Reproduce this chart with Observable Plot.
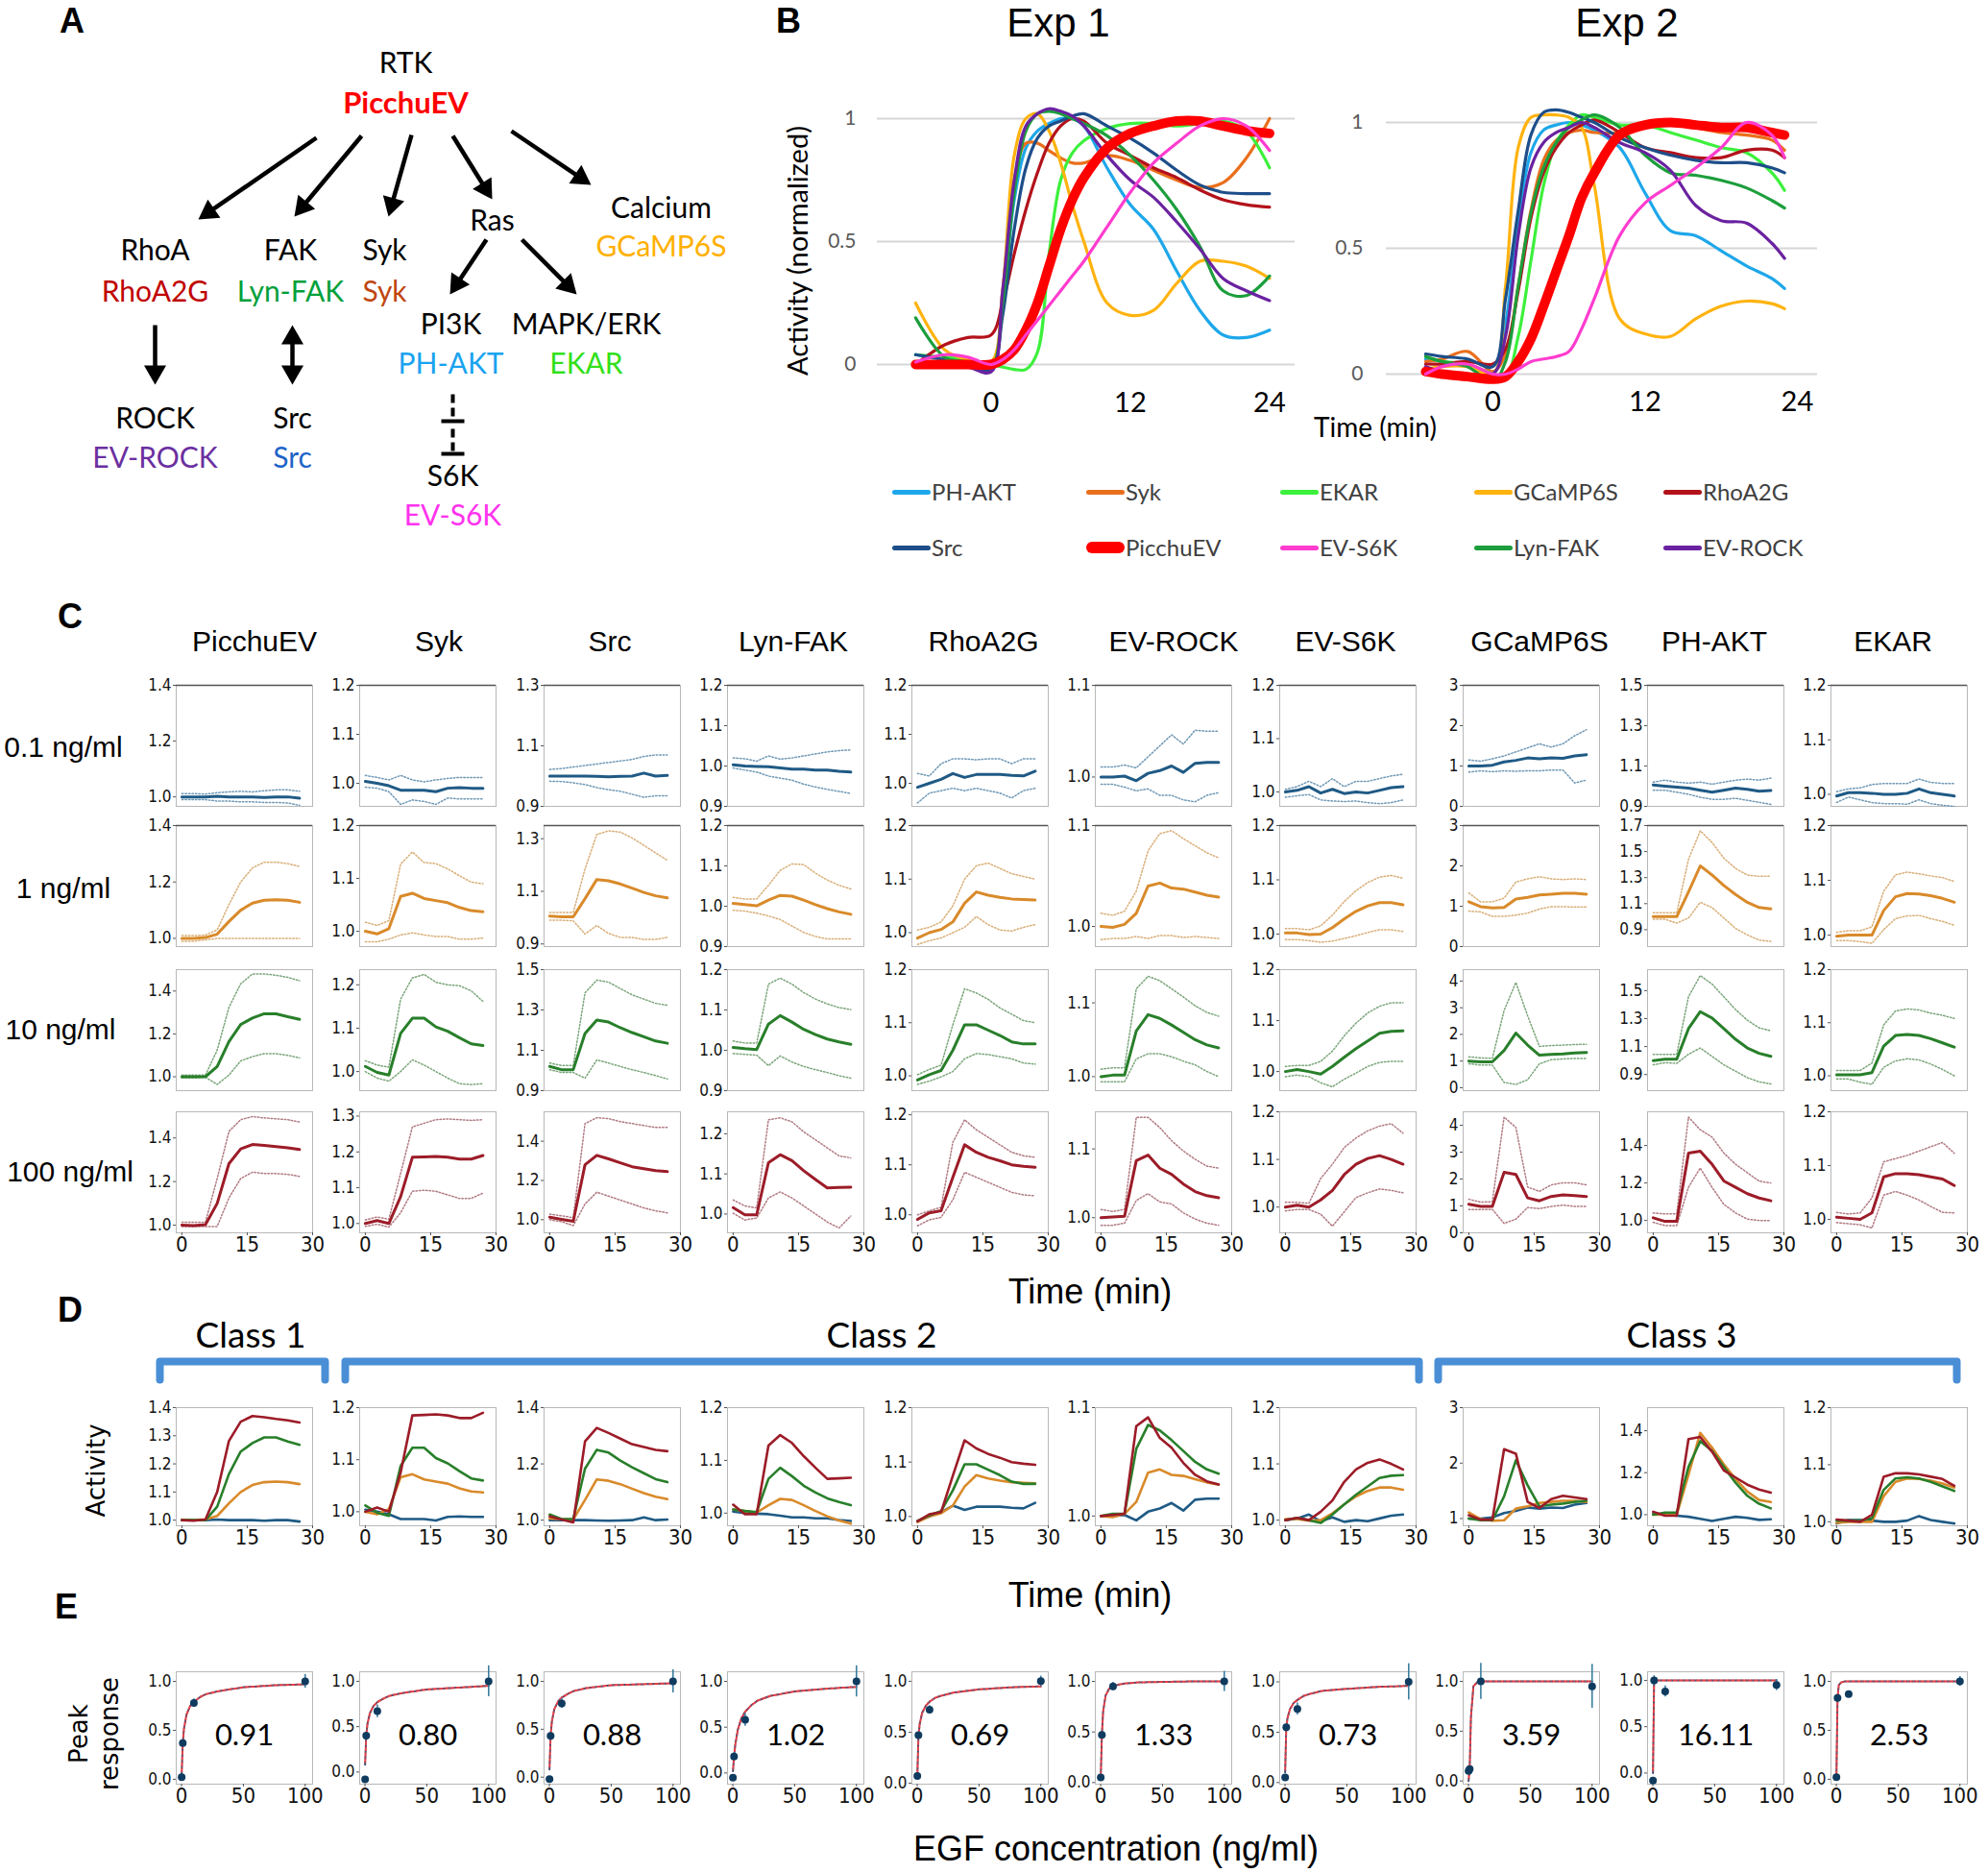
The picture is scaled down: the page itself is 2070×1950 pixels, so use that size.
<!DOCTYPE html>
<html><head><meta charset="utf-8">
<script src="https://cdn.jsdelivr.net/npm/d3@7"></script>
<script src="https://cdn.jsdelivr.net/npm/@observablehq/plot@0.6"></script>
<style>
body{margin:0;background:#fff;}
#root{position:relative;width:2070px;height:1950px;overflow:hidden;background:#fff;}
.t{position:absolute;white-space:nowrap;transform:translate(-50%,-50%);line-height:1;}
</style></head><body><div id="root"></div>
<script>
// ---------------- DATA ----------------
const sensors = ["PicchuEV","Syk","Src","Lyn-FAK","RhoA2G","EV-ROCK","EV-S6K","GCaMP6S","PH-AKT","EKAR"];
const concLabels = ["0.1 ng/ml","1 ng/ml","10 ng/ml","100 ng/ml"];
const timeC = [0,2.7,5.4,8.1,10.8,13.5,16.2,18.9,21.6,24.3,27];

const mean01 = [
 [1.0,1.0,1.0,1.002,1.0,1.0,1.0,0.998,1.0,1.0,0.995],
 [1.004,1.0,0.995,0.986,0.986,0.986,0.983,0.99,0.991,0.99,0.99],
 [1.0,1.0,1.0,1.0,0.999,0.998,0.999,1.0,1.01,1.0,1.002],
 [1.003,1.0,0.999,0.998,0.995,0.992,0.992,0.99,0.99,0.987,0.985],
 [0.992,1.0,1.008,1.02,1.012,1.018,1.018,1.018,1.016,1.015,1.025],
 [1.0,1.0,1.001,0.996,1.004,1.007,1.012,1.005,1.015,1.016,1.016],
 [1.0,1.003,1.01,0.998,1.005,0.997,1.0,0.998,1.003,1.008,1.01],
 [1.0,1.0,1.02,1.1,1.14,1.2,1.18,1.2,1.19,1.25,1.28],
 [1.006,1.0,0.995,0.99,0.98,0.97,0.98,0.99,0.985,0.975,0.978],
 [0.997,1.003,1.003,1.002,1.0,1.0,1.002,1.01,1.003,1.0,0.997]];
const upper01 = [
 [1.012,1.012,1.01,1.015,1.018,1.02,1.018,1.022,1.025,1.025,1.02],
 [1.016,1.012,1.007,1.016,1.007,1.003,1.007,1.01,1.012,1.012,1.012],
 [1.022,1.025,1.03,1.035,1.04,1.045,1.05,1.055,1.065,1.07,1.07],
 [1.02,1.018,1.012,1.025,1.017,1.02,1.025,1.03,1.035,1.038,1.04],
 [1.02,1.015,1.04,1.05,1.05,1.048,1.05,1.05,1.04,1.05,1.05],
 [1.011,1.011,1.013,1.01,1.022,1.034,1.046,1.036,1.051,1.05,1.05],
 [1.005,1.01,1.02,1.01,1.025,1.01,1.02,1.02,1.025,1.03,1.033],
 [1.15,1.12,1.18,1.25,1.35,1.45,1.55,1.47,1.55,1.75,1.9],
 [1.02,1.03,1.02,1.015,1.02,1.01,1.02,1.03,1.035,1.03,1.04],
 [1.005,1.01,1.012,1.018,1.02,1.02,1.02,1.028,1.022,1.02,1.02]];
const lower01 = [
 [0.99,0.99,0.99,0.985,0.985,0.982,0.982,0.98,0.98,0.978,0.97],
 [0.992,0.99,0.983,0.957,0.966,0.963,0.957,0.97,0.968,0.968,0.968],
 [0.983,0.982,0.978,0.972,0.962,0.955,0.95,0.94,0.93,0.935,0.935],
 [0.995,0.99,0.985,0.975,0.97,0.965,0.955,0.948,0.942,0.937,0.932],
 [0.96,0.98,0.985,0.99,0.985,0.99,0.985,0.98,0.97,0.985,0.99],
 [0.992,0.992,0.989,0.985,0.987,0.98,0.98,0.975,0.973,0.98,0.983],
 [0.99,0.993,0.995,0.985,0.983,0.982,0.983,0.98,0.978,0.98,0.985],
 [0.85,0.88,0.86,0.88,0.87,0.88,0.88,0.9,0.9,0.58,0.65],
 [0.98,0.98,0.97,0.96,0.945,0.935,0.935,0.94,0.93,0.92,0.91],
 [0.985,0.995,0.99,0.985,0.983,0.983,0.982,0.99,0.983,0.98,0.978]];

const mean1 = [
 [1.0,1.0,1.003,1.015,1.06,1.1,1.125,1.135,1.137,1.135,1.128],
 [1.0,0.995,1.005,1.066,1.072,1.062,1.058,1.054,1.045,1.039,1.037],
 [1.006,1.003,1.003,1.072,1.145,1.14,1.128,1.112,1.096,1.083,1.075],
 [1.007,1.004,1.001,1.015,1.027,1.025,1.015,1.004,0.994,0.986,0.98],
 [0.99,1.0,1.006,1.02,1.055,1.076,1.07,1.066,1.063,1.062,1.061],
 [1.0,0.999,1.002,1.013,1.04,1.043,1.038,1.037,1.034,1.031,1.029],
 [1.002,1.002,0.999,1.0,1.012,1.028,1.042,1.052,1.058,1.058,1.054],
 [1.11,0.99,0.96,0.97,1.18,1.22,1.28,1.3,1.32,1.32,1.3],
 [1.0,1.0,1.0,1.19,1.39,1.32,1.24,1.17,1.11,1.07,1.06],
 [0.998,1.0,1.0,1.0,1.045,1.07,1.076,1.075,1.072,1.067,1.06]];
const upper1 = [
 [1.01,1.01,1.012,1.03,1.12,1.2,1.25,1.27,1.27,1.265,1.255],
 [1.017,1.011,1.02,1.127,1.15,1.13,1.128,1.118,1.105,1.093,1.09],
 [1.02,1.02,1.02,1.185,1.316,1.33,1.325,1.303,1.275,1.246,1.218],
 [1.022,1.018,1.018,1.052,1.089,1.105,1.103,1.082,1.065,1.052,1.043],
 [1.005,1.01,1.02,1.05,1.1,1.125,1.13,1.12,1.11,1.105,1.1],
 [1.013,1.011,1.015,1.035,1.075,1.092,1.095,1.087,1.08,1.073,1.068],
 [1.01,1.01,1.008,1.015,1.035,1.06,1.08,1.095,1.105,1.108,1.103],
 [1.33,1.11,1.11,1.2,1.6,1.68,1.73,1.68,1.66,1.68,1.66],
 [1.03,1.03,1.03,1.44,1.66,1.57,1.45,1.37,1.32,1.31,1.31],
 [1.005,1.008,1.008,1.015,1.08,1.11,1.115,1.112,1.108,1.105,1.098]];
const lower1 = [
 [0.99,0.99,0.995,1.0,1.0,1.0,1.0,1.0,1.0,1.0,1.0],
 [0.98,0.98,0.985,0.993,0.997,0.993,0.99,0.99,0.985,0.985,0.987],
 [0.99,0.99,0.988,0.938,0.97,0.94,0.925,0.925,0.917,0.917,0.925],
 [0.99,0.988,0.983,0.976,0.967,0.951,0.935,0.925,0.919,0.919,0.919],
 [0.978,0.985,0.99,1.0,1.01,1.03,1.015,1.005,1.003,1.01,1.015],
 [0.987,0.988,0.988,0.99,0.988,0.991,0.991,0.989,0.99,0.989,0.988],
 [0.99,0.99,0.988,0.985,0.987,0.992,0.997,1.003,1.008,1.008,1.005],
 [0.88,0.86,0.75,0.75,0.78,0.83,0.93,0.99,0.99,0.98,0.98],
 [0.98,0.98,0.95,0.99,1.11,1.07,0.99,0.91,0.86,0.82,0.81],
 [0.99,0.99,0.988,0.985,1.01,1.03,1.035,1.036,1.03,1.025,1.018]];

const mean10 = [
 [1.0,1.0,1.0,1.048,1.164,1.244,1.274,1.294,1.294,1.28,1.268],
 [1.012,0.998,0.992,1.088,1.123,1.123,1.103,1.093,1.078,1.064,1.06],
 [1.02,1.004,1.004,1.183,1.25,1.24,1.212,1.188,1.167,1.146,1.135],
 [1.007,1.004,1.002,1.065,1.086,1.07,1.052,1.039,1.028,1.021,1.015],
 [0.992,1.002,1.01,1.048,1.096,1.096,1.086,1.076,1.064,1.06,1.06],
 [1.0,1.002,1.002,1.062,1.084,1.079,1.07,1.06,1.05,1.043,1.039],
 [1.0,1.004,1.0,0.995,1.01,1.028,1.045,1.06,1.075,1.079,1.08],
 [1.0,0.97,0.97,1.4,2.05,1.6,1.22,1.25,1.27,1.3,1.32],
 [1.0,1.01,1.01,1.228,1.35,1.304,1.228,1.152,1.09,1.052,1.03],
 [1.002,1.002,1.002,1.006,1.056,1.076,1.078,1.076,1.07,1.062,1.054]];
const upper10 = [
 [1.008,1.008,1.008,1.124,1.324,1.434,1.48,1.48,1.474,1.464,1.448],
 [1.025,1.015,1.01,1.167,1.216,1.224,1.206,1.2,1.198,1.186,1.162],
 [1.037,1.025,1.025,1.385,1.448,1.438,1.406,1.375,1.354,1.333,1.323],
 [1.023,1.018,1.018,1.164,1.179,1.164,1.143,1.127,1.115,1.106,1.101],
 [1.002,1.012,1.02,1.096,1.164,1.156,1.144,1.128,1.116,1.104,1.1],
 [1.01,1.012,1.012,1.119,1.136,1.13,1.119,1.108,1.096,1.087,1.082],
 [1.01,1.012,1.012,1.02,1.04,1.07,1.095,1.115,1.128,1.135,1.135],
 [1.16,1.12,1.1,2.9,3.95,2.7,1.55,1.58,1.6,1.62,1.63],
 [1.045,1.045,1.045,1.456,1.608,1.547,1.456,1.365,1.289,1.234,1.213],
 [1.01,1.01,1.01,1.024,1.096,1.122,1.126,1.124,1.118,1.114,1.108]];
const lower10 = [
 [0.994,0.994,0.998,0.964,1.008,1.074,1.094,1.108,1.108,1.1,1.088],
 [1.0,0.985,0.978,1.0,1.027,1.015,1.0,0.985,0.972,0.97,0.972],
 [1.004,0.99,0.99,0.962,1.052,1.037,1.02,1.004,0.99,0.975,0.958],
 [0.992,0.99,0.988,0.962,0.986,0.971,0.96,0.952,0.945,0.937,0.931],
 [0.984,0.99,0.998,1.008,1.032,1.042,1.04,1.036,1.032,1.024,1.022],
 [0.993,0.993,0.993,1.024,1.031,1.031,1.027,1.021,1.016,1.007,1.0],
 [0.99,0.993,0.99,0.978,0.97,0.985,0.997,1.01,1.018,1.02,1.02],
 [0.9,0.85,0.85,0.2,0.12,0.3,0.9,1.05,1.08,1.1,1.1],
 [0.97,0.985,0.98,1.045,1.09,1.03,0.97,0.924,0.878,0.848,0.833],
 [0.994,0.994,0.988,0.984,1.016,1.028,1.032,1.03,1.022,1.012,1.0]];

const mean100 = [
 [1.0,0.998,1.002,1.1,1.282,1.35,1.37,1.366,1.36,1.355,1.347],
 [1.0,1.008,1.0,1.075,1.185,1.186,1.187,1.185,1.18,1.18,1.19],
 [1.013,1.002,0.992,1.28,1.328,1.31,1.29,1.27,1.26,1.25,1.245],
 [1.016,0.998,0.998,1.128,1.148,1.133,1.108,1.086,1.065,1.066,1.067],
 [0.991,1.004,1.008,1.075,1.14,1.125,1.115,1.108,1.1,1.097,1.095],
 [1.0,1.001,1.002,1.083,1.091,1.072,1.063,1.049,1.038,1.032,1.029],
 [1.0,1.004,1.0,1.015,1.035,1.068,1.09,1.102,1.108,1.1,1.09],
 [1.06,0.98,0.98,2.25,2.17,1.3,1.19,1.35,1.41,1.38,1.35],
 [1.014,0.995,0.995,1.36,1.37,1.3,1.211,1.177,1.143,1.12,1.105],
 [1.004,1.002,1.0,1.012,1.079,1.085,1.085,1.083,1.079,1.075,1.063]];
const upper100 = [
 [1.014,1.014,1.014,1.214,1.43,1.484,1.498,1.492,1.488,1.484,1.473],
 [1.01,1.018,1.012,1.14,1.27,1.28,1.29,1.292,1.29,1.288,1.29],
 [1.028,1.02,1.01,1.49,1.52,1.515,1.5,1.49,1.48,1.47,1.47],
 [1.035,1.02,1.015,1.235,1.24,1.23,1.205,1.185,1.165,1.145,1.14],
 [1.0,1.008,1.015,1.145,1.19,1.17,1.155,1.14,1.125,1.118,1.115],
 [1.012,1.009,1.012,1.146,1.146,1.131,1.112,1.097,1.085,1.075,1.072],
 [1.01,1.01,1.008,1.06,1.09,1.125,1.145,1.16,1.17,1.175,1.155],
 [1.25,1.14,1.16,4.3,3.92,1.7,1.54,1.78,1.86,1.86,1.78],
 [1.04,1.035,1.035,1.552,1.484,1.445,1.36,1.3,1.255,1.21,1.2],
 [1.013,1.01,1.012,1.04,1.107,1.113,1.119,1.127,1.135,1.143,1.123]];
const lower100 = [
 [0.994,0.994,0.994,0.994,1.125,1.214,1.243,1.237,1.237,1.233,1.224],
 [0.992,0.998,0.99,1.03,1.09,1.093,1.09,1.08,1.07,1.07,1.085],
 [1.0,0.99,0.97,1.08,1.14,1.12,1.1,1.08,1.06,1.045,1.035],
 [1.002,0.985,0.99,1.04,1.055,1.04,1.02,1.0,0.98,0.965,0.995],
 [0.978,0.99,0.995,1.03,1.085,1.075,1.065,1.055,1.045,1.04,1.038],
 [0.989,0.989,0.992,1.025,1.035,1.023,1.02,1.007,0.998,0.992,0.989],
 [0.992,0.995,0.995,0.985,0.96,0.99,1.02,1.03,1.038,1.035,1.03],
 [0.87,0.87,0.87,0.35,0.51,0.94,0.9,0.98,1.03,0.98,0.98],
 [0.99,0.973,0.973,1.177,1.28,1.177,1.086,1.04,1.007,1.0,1.0],
 [0.994,0.992,0.99,0.984,1.045,1.052,1.045,1.036,1.024,1.013,1.012]];

const cDomains = [
 [[0.966,1.4],[0.953,1.2],[0.9,1.3],[0.9,1.2],[0.953,1.2],[0.968,1.1],[0.973,1.2],[0,3],[0.9,1.5],[0.978,1.2]],
 [[0.971,1.4],[0.971,1.2],[0.89,1.35],[0.9,1.2],[0.974,1.2],[0.98,1.1],[0.977,1.2],[0,3],[0.77,1.7],[0.979,1.2]],
 [[0.935,1.5],[0.956,1.235],[0.9,1.5],[0.9,1.2],[0.972,1.2],[0.981,1.145],[0.9625,1.2],[-0.11,4.43],[0.785,1.65],[0.972,1.2]],
 [[0.965,1.52],[0.974,1.312],[0.933,1.55],[0.953,1.255],[0.964,1.206],[0.978,1.154],[0.946,1.2],[0,4.5],[0.934,1.58],[0.975,1.2]]];
const cTicks = [
 [[1,1.2,1.4],[1,1.1,1.2],[0.9,1.1,1.3],[0.9,1,1.1,1.2],[1,1.1,1.2],[1,1.1],[1,1.1,1.2],[0,1,2,3],[0.9,1.1,1.3,1.5],[1,1.1,1.2]],
 [[1,1.2,1.4],[1,1.1,1.2],[0.9,1.1,1.3],[0.9,1,1.1,1.2],[1,1.1,1.2],[1,1.1],[1,1.1,1.2],[0,1,2,3],[0.9,1.1,1.3,1.5,1.7],[1,1.1,1.2]],
 [[1,1.2,1.4],[1,1.1,1.2],[0.9,1.1,1.3,1.5],[0.9,1,1.1,1.2],[1,1.1,1.2],[1,1.1],[1,1.1,1.2],[0,1,2,3,4],[0.9,1.1,1.3,1.5],[1,1.1,1.2]],
 [[1,1.2,1.4],[1,1.1,1.2,1.3],[1,1.2,1.4],[1,1.1,1.2],[1,1.1,1.2],[1,1.1],[1,1.1,1.2],[0,1,2,3,4],[1,1.2,1.4],[1,1.1,1.2]]];
const cTimeTicks = [0,15,30];

const dDomains = [[0.98,1.4],[0.973,1.2],[0.98,1.4],[0.976,1.2],[0.983,1.2],[0.991,1.1],[0.99,1.2],[0.87,3],[0.947,1.51],[0.993,1.2]];
const dTicks = [[1,1.1,1.2,1.3,1.4],[1,1.1,1.2],[1,1.2,1.4],[1,1.1,1.2],[1,1.1,1.2],[1,1.1],[1,1.1,1.2],[1,2,3],[1,1.2,1.4],[1,1.1,1.2]];
const classNames = ["Class 1","Class 2","Class 3"];

// Panel E
const eDose = [0.1,1,10,100];
const eMean = [[0.02,0.37,0.78,1.0],[-0.08,0.40,0.67,1.0],[-0.02,0.43,0.77,1.0],[-0.05,0.18,0.58,1.0],[0.07,0.47,0.72,1.0],
 [0.05,0.47,0.95,1.0],[0.05,0.55,0.73,1.0],[0.10,0.12,1.0,0.95],[-0.08,1.0,0.88,0.95],[0.02,0.83,0.87,1.0]];
const eErr = [[0.02,0.03,0.04,0.07],[0.02,0.03,0.07,0.17],[0.02,0.03,0.05,0.12],[0.02,0.04,0.07,0.17],[0.02,0.03,0.04,0.05],
 [0.02,0.03,0.04,0.1],[0.02,0.03,0.06,0.18],[0.02,0.03,0.18,0.22],[0.02,0.05,0.06,0.06],[0.02,0.03,0.03,0.05]];
const eCurveX = [0.1,1,2,4,7,10,15,20,30,50,75,100];
const eCurveY = [
 [0.05,0.37,0.52,0.66,0.75,0.79,0.84,0.87,0.9,0.94,0.96,0.97],
 [0.08,0.40,0.53,0.65,0.73,0.77,0.81,0.84,0.87,0.91,0.93,0.95],
 [0.08,0.43,0.58,0.71,0.79,0.83,0.87,0.9,0.93,0.96,0.97,0.98],
 [0.02,0.18,0.31,0.47,0.6,0.67,0.74,0.79,0.84,0.89,0.92,0.94],
 [0.07,0.46,0.58,0.69,0.76,0.8,0.84,0.86,0.89,0.92,0.94,0.95],
 [0.05,0.47,0.7,0.86,0.93,0.95,0.97,0.98,0.99,0.995,1.0,1.0],
 [0.1,0.55,0.64,0.73,0.79,0.82,0.86,0.88,0.91,0.93,0.95,0.96],
 [0.0,0.13,0.64,0.95,0.99,1.0,1.0,1.0,1.0,1.0,1.0,1.0],
 [0.0,1.0,1.0,1.0,1.0,1.0,1.0,1.0,1.0,1.0,1.0,1.0],
 [0.02,0.83,0.96,0.99,1.0,1.0,1.0,1.0,1.0,1.0,1.0,1.0]];
const eHill = ["0.91","0.80","0.88","1.02","0.69","1.33","0.73","3.59","16.11","2.53"];
const eDomains = [[-0.05,1.098],[-0.134,1.105],[-0.073,1.1],[-0.122,1.105],[-0.01,1.093],[-0.016,1.095],[-0.016,1.1],[-0.032,1.096],[-0.12,1.093],[-0.05,1.098]];
const eDoseTicks = [0,50,100];

// Panel B
const bSeries = ["PH-AKT","Syk","EKAR","GCaMP6S","RhoA2G","Src","PicchuEV","EV-S6K","Lyn-FAK","EV-ROCK"];
const bColors = ["#1ea7ea","#ea6f1c","#3cf03c","#ffb30f","#b3121b","#1d4e89","#ff0000","#ff3ccf","#1c9e3c","#6a22a0"];
const timeB1 = [-6.5,-4,-2,0,1,2,3,4,5,6,7,8,10,12,14,16,18,20,22,24];
const timeB2 = [-5.3,-4,-2,0,1,2,3,4,5,6,7,8,10,12,14,16,18,20,22,23];
const exp1PHAKT = [0.04,0.02,0.02,0.0,0.25,0.67,0.88,0.95,0.98,1.0,1.0,0.97,0.8,0.65,0.55,0.38,0.22,0.12,0.11,0.14];
const exp1Syk = [0.01,0.0,0.01,-0.01,0.3,0.75,0.9,0.9,0.87,0.84,0.82,0.82,0.85,0.83,0.79,0.75,0.72,0.74,0.84,1.0];
const exp1EKAR = [0.04,0.03,0.02,0.0,-0.01,-0.02,-0.02,0.05,0.45,0.75,0.86,0.91,0.96,0.98,0.98,0.97,0.98,0.99,0.95,0.8];
const exp1GCaMP = [0.25,0.06,0.02,0.01,0.3,0.85,1.0,1.02,0.95,0.82,0.65,0.5,0.25,0.2,0.22,0.33,0.42,0.42,0.4,0.35];
const exp1RhoA = [0.0,0.08,0.11,0.12,0.25,0.45,0.63,0.78,0.9,0.97,1.0,0.99,0.9,0.85,0.8,0.76,0.71,0.67,0.65,0.64];
const exp1Src = [0.04,0.02,0.0,-0.02,0.2,0.55,0.8,0.92,0.97,0.99,1.01,1.02,0.97,0.92,0.86,0.79,0.73,0.7,0.695,0.695];
const exp1Picchu = [0.0,0.0,0.0,0.0,0.02,0.06,0.14,0.25,0.4,0.55,0.67,0.76,0.88,0.94,0.97,0.99,0.99,0.97,0.95,0.94];
const exp1S6K = [0.01,0.04,0.03,0.0,0.02,0.06,0.12,0.18,0.24,0.3,0.36,0.42,0.56,0.7,0.82,0.9,0.97,1.0,0.97,0.87];
const exp1Lyn = [0.19,0.03,0.01,-0.01,0.25,0.7,0.95,1.02,1.03,1.02,1.0,0.98,0.93,0.85,0.75,0.63,0.48,0.3,0.28,0.36];
const exp1ROCK = [0.01,0.0,-0.01,-0.03,0.3,0.75,0.97,1.02,1.04,1.03,1.01,0.97,0.85,0.75,0.68,0.58,0.47,0.35,0.3,0.26];
const exp2PHAKT = [0.06,0.05,0.03,0.0,0.2,0.6,0.88,0.97,0.99,1.0,0.99,0.97,0.9,0.72,0.57,0.55,0.49,0.43,0.38,0.34];
const exp2Syk = [0.05,0.06,0.09,0.01,0.08,0.35,0.65,0.85,0.93,0.96,0.97,0.96,0.96,0.99,1.0,0.98,0.96,0.95,0.93,0.89];
const exp2EKAR = [0.07,0.05,0.04,0.0,-0.01,0.15,0.45,0.75,0.92,0.99,1.03,1.02,0.99,0.99,0.96,0.93,0.9,0.88,0.8,0.73];
const exp2GCaMP = [0.02,0.03,0.03,0.0,0.35,0.9,1.02,1.03,1.03,1.02,0.98,0.75,0.22,0.16,0.15,0.22,0.27,0.29,0.28,0.26];
const exp2RhoA = [0.04,0.04,0.05,0.04,0.1,0.33,0.62,0.8,0.9,0.96,0.99,1.01,0.96,0.9,0.88,0.86,0.86,0.89,0.89,0.86];
const exp2Src = [0.08,0.07,0.06,0.03,0.3,0.65,0.95,1.04,1.05,1.04,1.02,1.0,0.94,0.9,0.87,0.85,0.84,0.84,0.82,0.8];
const exp2Picchu = [0.01,0.0,-0.01,-0.02,-0.01,0.05,0.14,0.27,0.41,0.55,0.7,0.8,0.95,0.99,1.0,0.99,0.98,0.98,0.96,0.95];
const exp2S6K = [0.0,0.03,0.04,0.0,0.0,0.02,0.05,0.06,0.07,0.09,0.18,0.3,0.55,0.68,0.75,0.82,0.9,1.0,0.95,0.86];
const exp2Lyn = [0.07,0.05,0.03,-0.03,0.05,0.35,0.64,0.82,0.92,0.98,1.01,1.03,0.98,0.87,0.8,0.79,0.77,0.74,0.69,0.66];
const exp2ROCK = [0.03,0.01,0.0,0.0,0.15,0.55,0.82,0.92,0.96,0.98,1.0,0.98,0.92,0.88,0.81,0.67,0.61,0.6,0.52,0.46];
const exp1 = [exp1PHAKT,exp1Syk,exp1EKAR,exp1GCaMP,exp1RhoA,exp1Src,exp1Picchu,exp1S6K,exp1Lyn,exp1ROCK];
const exp2 = [exp2PHAKT,exp2Syk,exp2EKAR,exp2GCaMP,exp2RhoA,exp2Src,exp2Picchu,exp2S6K,exp2Lyn,exp2ROCK];
const bTimeTicks = [0,12,24];
const bActTicks = [0,0.5,1];

// Panel A diagram layout (label positions in px of the diagram area)
const aNodes = [
 {label:"RTK",x:422,y:66,color:"#000"},{label:"PicchuEV",x:422,y:108,color:"#ff0000",bold:true},
 {label:"RhoA",x:161,y:261,color:"#000"},{label:"RhoA2G",x:161,y:304,color:"#c00000"},
 {label:"FAK",x:302,y:261,color:"#000"},{label:"Lyn-FAK",x:302,y:304,color:"#00a03a"},
 {label:"Syk",x:400,y:261,color:"#000"},{label:"Syk",x:400,y:304,color:"#c0460f"},
 {label:"Ras",x:512,y:230,color:"#000"},
 {label:"Calcium",x:688,y:217,color:"#000"},{label:"GCaMP6S",x:688,y:257,color:"#ffb000"},
 {label:"PI3K",x:469,y:338,color:"#000"},{label:"PH-AKT",x:469,y:379,color:"#1aa3f0"},
 {label:"MAPK/ERK",x:610,y:338,color:"#000"},{label:"EKAR",x:610,y:379,color:"#33e01a"},
 {label:"ROCK",x:161,y:436,color:"#000"},{label:"EV-ROCK",x:161,y:477,color:"#6b2fa0"},
 {label:"Src",x:304,y:436,color:"#000"},{label:"Src",x:304,y:477,color:"#1f64c8"},
 {label:"S6K",x:471,y:496,color:"#000"},{label:"EV-S6K",x:471,y:537,color:"#ff33ee"}];
const aArrows = [
 {x1:329,y1:143,x2:206,y2:228},{x1:376,y1:141,x2:306,y2:225},{x1:428,y1:140,x2:404,y2:225},
 {x1:471,y1:141,x2:512,y2:207},{x1:532,y1:136,x2:615,y2:192},
 {x1:506,y1:249,x2:468,y2:306},{x1:543,y1:249,x2:600,y2:306},
 {x1:161,y1:338,x2:161,y2:400},{x1:304,y1:338,x2:304,y2:400,both:true}];
const aInhibit = [{x:471,y1:410,y2:438},{x:471,y1:446,y2:472}];

// ---------------- LAYOUT HELPERS ----------------
const root = document.getElementById("root");
function put(el, left, top){ el.style.position="absolute"; el.style.left=left+"px"; el.style.top=top+"px"; root.appendChild(el); return el; }
function txt(s, x, y, o={}){
  const d=document.createElement("div"); d.className="t"; d.textContent=s;
  d.style.left=x+"px"; d.style.top=y+"px";
  d.style.fontFamily=o.font||"'Liberation Sans', Arial, sans-serif";
  d.style.fontSize=(o.size||30)+"px"; d.style.fontWeight=o.weight||"normal"; d.style.color=o.color||"#000";
  if(o.rotate) d.style.transform=`translate(-50%,-50%) rotate(${o.rotate}deg)`;
  if(o.left) d.style.transform="translate(0,-50%)";
  root.appendChild(d); return d;
}
const colLeft = i => 182.5 + i*191.5;
const frameW = 142;
const tickFont = "'DejaVu Sans Condensed','Liberation Sans Narrow','DejaVu Sans',sans-serif";
const concColors = ["#1f5a85","#d98a2a","#287f2a","#9c1c28"];
const ciColors = ["#6f98b5","#d9ae78","#7aa57a","#b07a82"];

function small(left, top, h, o){
  const mL=46, mR=8, mT=6, mB = o.xTicks ? 34 : 6;
  const fmt = o.yTicks.every(Number.isInteger) ? d3.format("d") : d3.format(".1f");
  const marks = [Plot.frame({stroke:"#b8b8b8"})];
  if (o.darkTop) marks.push(Plot.ruleY([o.yDomain[1]], {stroke:"#555", strokeWidth:1.5}));
  marks.push(Plot.axisY(o.yTicks, {tickFormat: fmt, tickSize:3, tickPadding:2, fontSize:17, label:null, stroke:"#555", fill:"#111"}));
  if (o.xTicks) marks.push(Plot.axisX(o.xTicks, {tickSize:3, tickPadding:1, fontSize:22, label:null, stroke:"#555", fill:"#111"}));
  marks.push(...o.marks);
  const xs = {domain:o.xDomain}; if(!o.xTicks) xs.axis = null;
  const svg = Plot.plot({width: frameW+mL+mR, height: h+mT+mB, marginLeft:mL, marginRight:mR, marginTop:mT, marginBottom:mB,
    x: xs, y: {domain:o.yDomain},
    style:{fontFamily:tickFont, background:"transparent", overflow:"visible", color:"#222"},
    marks});
  put(svg, left-mL, top-mT);
}

// ---------------- PANEL LETTERS ----------------
[["A",75,22],["B",821,22],["C",73,642],["D",73,1364],["E",69,1673]].forEach(([s,x,y])=>txt(s,x,y,{size:36,weight:"bold"}));

// ---------------- PANEL A ----------------
(function(){
  const heads = [], links = [];
  const headR = 11, tip = 13.3;
  aArrows.forEach(a=>{
    const ends = a.both ? [[a.x1,a.y1,a.x2,a.y2],[a.x2,a.y2,a.x1,a.y1]] : [[a.x1,a.y1,a.x2,a.y2]];
    let sx=a.x1, sy=a.y1, ex=a.x2, ey=a.y2;
    ends.forEach(([x1,y1,x2,y2],k)=>{
      const L=Math.hypot(x2-x1,y2-y1), ux=(x2-x1)/L, uy=(y2-y1)/L;
      const cx=x2-tip*ux, cy=y2-tip*uy;
      heads.push({x:cx,y:cy,rot:Math.atan2(ux,-uy)*180/Math.PI});
      if(k===0){ex=cx; ey=cy;} else {sx=cx; sy=cy;}
    });
    links.push({x1:sx,y1:sy,x2:ex,y2:ey});
  });
  const svg = Plot.plot({width:800,height:580,margin:0,
    x:{domain:[0,800],range:[0,800],axis:null}, y:{domain:[0,580],range:[0,580],axis:null},
    color:{type:"identity"},
    style:{background:"transparent",overflow:"visible"},
    marks:[
      Plot.link(links,{x1:"x1",y1:"y1",x2:"x2",y2:"y2",stroke:"#000",strokeWidth:4.5}),
      Plot.dot(heads,{x:"x",y:"y",rotate:"rot",symbol:"triangle2",r:headR,fill:"#000"}),
      Plot.link(aInhibit,{x1:"x",x2:"x",y1:"y1",y2:"y2",stroke:"#000",strokeWidth:4,strokeDasharray:"9,5"}),
      Plot.link(aInhibit,{x1:d=>d.x-12,x2:d=>d.x+12,y1:"y2",y2:"y2",stroke:"#000",strokeWidth:4}),
      Plot.text(aNodes.filter(d=>!d.bold),{x:"x",y:"y",text:"label",fill:"color",fontSize:30,fontFamily:"Lato, 'Open Sans', sans-serif"}),
      Plot.text(aNodes.filter(d=>d.bold),{x:"x",y:"y",text:"label",fill:"color",fontSize:31,fontWeight:"bold",fontFamily:"Lato, 'Open Sans', sans-serif"})
    ]});
  put(svg,0,0);
})();

// ---------------- PANEL B ----------------
function bPlot(times, values, o){
  const rows = bSeries.flatMap((s,k)=> times.map((t,i)=>({s,t,v:values[k][i]})));
  const thin = rows.filter(d=>d.s!=="PicchuEV" && d.s!=="EV-S6K");
  const thick = rows.filter(d=>d.s==="PicchuEV");
  const mag = rows.filter(d=>d.s==="EV-S6K");
  const svg = Plot.plot({width:560,height:400,marginLeft:o.mL,marginRight:o.mR,marginTop:o.mT,marginBottom:o.mB,
    x:{domain:o.xDomain}, y:{domain:o.yDomain},
    color:{domain:bSeries, range:bColors},
    style:{fontFamily:"Lato, sans-serif", background:"transparent", overflow:"visible", color:"#000"},
    marks:[
      Plot.gridY(bActTicks,{stroke:"#d6d6d6",strokeOpacity:1,strokeWidth:2}),
      Plot.axisY(bActTicks,{tickSize:0,tickPadding:o.yPad,fontSize:21,fill:"#5a5a5a",label:null,tickFormat:d=>String(d)}),
      Plot.axisX(bTimeTicks,{tickSize:0,tickPadding:o.xPad,fontSize:29,label:null}),
      Plot.line(thin,{x:"t",y:"v",z:"s",stroke:"s",strokeWidth:3.2,curve:"catmull-rom"}),
      Plot.line(thick,{x:"t",y:"v",z:"s",stroke:"s",strokeWidth:10,curve:"catmull-rom"}),
      Plot.line(mag,{x:"t",y:"v",z:"s",stroke:"s",strokeWidth:3.2,curve:"catmull-rom"})
    ]});
  put(svg,o.left,o.top);
}
bPlot(timeB1, exp1, {left:820, top:60, mL:93, mR:32, mT:11.8, mB:55.4, xDomain:[-9.8,26.2], yDomain:[-0.1,1.2], yPad:22, xPad:3});
bPlot(timeB2, exp2, {left:1380, top:60, mL:63, mR:48, mT:14.6, mB:57.9, xDomain:[-8.4,25.6], yDomain:[-0.05,1.2], yPad:24, xPad:5});
txt("Exp 1",1102,24,{size:42});
txt("Exp 2",1694,24,{size:42});
txt("Activity (normalized)",829,261,{size:29,font:"Lato, sans-serif",rotate:-90});
txt("Time (min)",1432,444,{size:28,font:"Lato, sans-serif"});
(function(){
  const colX=[929,1131,1333,1535,1732], rowY=[512,570];
  bSeries.forEach((s,k)=>{
    const x=colX[k%5], y=rowY[Math.floor(k/5)];
    const sw=document.createElement("div");
    const h = s==="PicchuEV"?12:5;
    sw.style.width="40px"; sw.style.height=h+"px"; sw.style.borderRadius=(h/2)+"px"; sw.style.background=bColors[k];
    put(sw, x, y-h/2);
    txt(s, x+41, y, {size:24, font:"Lato, sans-serif", color:"#404040", left:true});
  });
})();

// ---------------- PANEL C ----------------
const cTops = [713,859,1009,1157];
const titleX = [265,457,635,826,1024,1222,1401,1603,1785,1971];
sensors.forEach((s,c)=>txt(s,titleX[c],668,{size:30}));
[[66,778],[66,925],[63,1072],[73,1220]].forEach(([x,y],r)=>txt(concLabels[r],x,y,{size:30}));
const meanC=[mean01,mean1,mean10,mean100], upC=[upper01,upper1,upper10,upper100], loC=[lower01,lower1,lower10,lower100];
const timeDomain = [-1.3,30];
for(let r=0;r<4;r++) for(let c=0;c<10;c++){
  small(colLeft(c), cTops[r], 126, {xDomain:timeDomain, xTicks: r===3?cTimeTicks:null, yDomain:cDomains[r][c], yTicks:cTicks[r][c], darkTop:r<2,
    marks:[
      Plot.lineY(upC[r][c],{x:timeC,stroke:ciColors[r],strokeWidth:1.5,strokeDasharray:"1.5,2"}),
      Plot.lineY(loC[r][c],{x:timeC,stroke:ciColors[r],strokeWidth:1.5,strokeDasharray:"1.5,2"}),
      Plot.lineY(meanC[r][c],{x:timeC,stroke:concColors[r],strokeWidth:3})
    ]});
}
txt("Time (min)",1135,1345,{size:36});

// ---------------- PANEL D ----------------
const classBrackets = [{x1:166,x2:338,lx:261},{x1:359,x2:1477,lx:918},{x1:1497,x2:2037,lx:1751}];
(function(){
  const pts = classBrackets.flatMap((b,k)=>[{k,x:b.x1,y:36},{k,x:b.x1,y:17},{k,x:b.x2,y:17},{k,x:b.x2,y:36}]);
  const svg = Plot.plot({width:2070,height:60,margin:0,
    x:{domain:[0,2070],range:[0,2070],axis:null}, y:{domain:[0,60],range:[0,60],axis:null},
    style:{background:"transparent",overflow:"visible"},
    marks:[Plot.line(pts,{x:"x",y:"y",z:"k",stroke:"#4a8fd6",strokeWidth:8,strokeLinejoin:"round"})]});
  put(svg,0,1400);
  classBrackets.forEach((b,k)=>txt(classNames[k],b.lx,1388,{size:37,font:"Lato, sans-serif"}));
})();
for(let c=0;c<10;c++){
  small(colLeft(c),1465,123,{xDomain:timeDomain, xTicks:cTimeTicks, yDomain:dDomains[c], yTicks:dTicks[c],
    marks:[0,1,2,3].map(r=>Plot.lineY(meanC[r][c],{x:timeC,stroke:concColors[r],strokeWidth:2.6}))});
}
txt("Activity",100,1531,{size:26,font:"'DejaVu Sans',sans-serif",rotate:-90});
txt("Time (min)",1135,1661,{size:36});

// ---------------- PANEL E ----------------
for(let c=0;c<10;c++){
  const pts = eDose.map((x,i)=>({x,y:eMean[c][i],e:eErr[c][i]}));
  small(colLeft(c),1740,117,{xDomain:[-4.3,106], xTicks:eDoseTicks, yDomain:eDomains[c], yTicks:[0,0.5,1],
    marks:[
      Plot.lineY(eCurveY[c],{x:eCurveX,stroke:"#4a4a6a",strokeWidth:2,strokeDasharray:"3,3"}),
      Plot.lineY(eCurveY[c],{x:eCurveX,stroke:"#e04048",strokeWidth:2,strokeDasharray:"3,3",strokeDashoffset:3}),
      Plot.ruleX(pts,{x:"x",y1:d=>d.y-d.e,y2:d=>d.y+d.e,stroke:"#3a7ea0",strokeWidth:1.6}),
      Plot.dot(pts,{x:"x",y:"y",r:4,fill:"#0f3b5f"}),
      Plot.text([eHill[c]],{text:d=>d,frameAnchor:"middle",dy:8,fontSize:31,fontFamily:"Lato, sans-serif",fill:"#000"})
    ]});
}
txt("Peak",82,1805,{size:26,font:"'DejaVu Sans',sans-serif",rotate:-90});
txt("response",114,1805,{size:26,font:"'DejaVu Sans',sans-serif",rotate:-90});
txt("EGF concentration (ng/ml)",1162,1925,{size:36});
</script></body></html>
